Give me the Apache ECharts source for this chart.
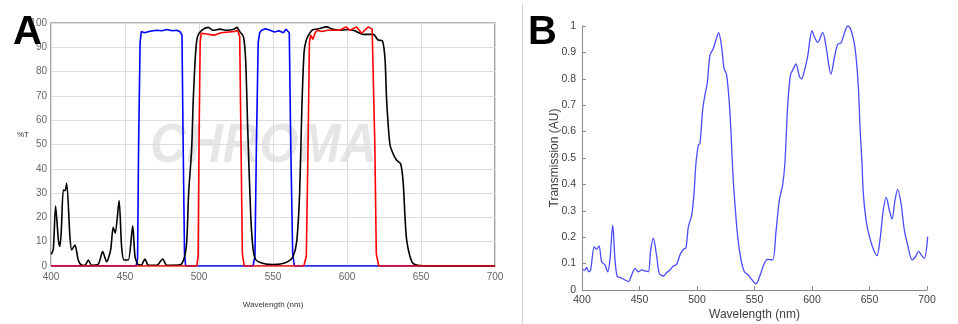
<!DOCTYPE html>
<html>
<head>
<meta charset="utf-8">
<script src="https://cdn.jsdelivr.net/npm/echarts@6/dist/echarts.min.js"></script>
<style>
html,body{margin:0;padding:0;background:#fff;}
#chart{width:958px;height:324px;}
</style>
</head>
<body>
<div id="chart"></div>
<script>
// ---------- Panel A data (wavelength nm, %T) ----------
var blueX = [400, 457.5, 458.5, 459.2, 460.2, 461, 463, 467, 471.4, 475, 478.2, 482, 485, 487.2, 488.5, 489.3, 490.2, 491, 536.5, 537.8, 538.8, 540, 541, 542.3, 545, 548, 551, 554, 557, 558.8, 561, 562, 563.3, 564.5, 700];
var blueY = [0, 0, 3, 50, 92, 96.5, 96, 96.6, 97, 96.8, 97.3, 96.8, 97, 96.4, 95, 50, 5, 0, 0, 4, 50, 92, 96, 97, 97.6, 97, 96.3, 96.8, 96, 97.4, 96, 50, 5, 0, 0];

var redX = [400, 498.5, 499.4, 500, 500.8, 501.5, 505, 510, 515, 520, 524, 526, 527.5, 528.4, 529.3, 530.5, 570.8, 572.5, 573.7, 574.6, 575.5, 577, 578.5, 580, 583, 587, 591, 595, 599.3, 602, 606.5, 609.9, 614.4, 617, 618, 618.8, 619.8, 621.5, 700];
var redY = [0, 0, 4, 50, 92, 95.8, 95.5, 95, 96, 96.3, 96.5, 97, 94.5, 50, 5, 0, 0, 4, 50, 92, 95, 93.3, 96, 97, 96.5, 97, 97, 97, 98.4, 97, 98.4, 95.8, 98.4, 97.5, 97, 50, 5, 0, 0];

var blackX = [400, 400.5, 401.6, 403.1, 405, 406, 407, 408.3, 409.5, 410.6, 412.8, 414, 416.2, 418.4, 420.7, 423, 425.2, 427.5, 432, 434.9, 437.6, 440.3, 442, 443.4, 446, 447.7, 449.3, 452.2, 455.2, 456.8, 459, 461, 463.5, 465.8, 471.4, 475.5, 478.2, 487.2, 490, 491.7, 493, 495, 496.1, 497.7, 499, 501.8, 506.3, 509.5, 514.2, 518.7, 523.2, 525.5, 527.7, 530, 531.5, 533, 535, 536.6, 538, 540, 545, 550, 555, 560, 563.5, 566, 568, 569.5, 571, 572.5, 575, 577.2, 580, 586.3, 590, 595.3, 600, 604.3, 611, 617.8, 621, 624, 625.7, 626.8, 629, 631.3, 633.5, 636.3, 638, 639.2, 640.3, 642.6, 644.8, 649.3, 660, 700];
var blackY = [4.9, 5.2, 7, 24.7, 10.7, 8, 15, 31.3, 31, 34, 12, 6.6, 8.6, 2.5, 0.4, 0.3, 2.5, 0.3, 0.8, 5.9, 1.8, 6.6, 15.9, 13.5, 26.9, 8, 2.5, 2.5, 16.5, 3.8, 0.5, 0.4, 2.9, 0.3, 0.3, 2.9, 0.3, 0.5, 3.3, 10, 30, 47.7, 68, 87.6, 94.4, 97, 98.2, 97, 97.5, 97, 97.3, 98.2, 96.3, 94.4, 85, 55, 20, 6.6, 3, 1.8, 0.8, 0.6, 0.8, 1.8, 3.8, 10, 30, 65, 88, 93, 96, 97.3, 97.5, 98.4, 97.5, 97, 97.3, 97, 95.3, 95.3, 93, 92.6, 85, 68, 50, 46, 43.6, 42, 34, 20, 10.7, 3.8, 1, 0.2, 0, 0];

// ---------- Panel B data (wavelength nm, transmission AU) ----------
var specX = [400.3, 402.6, 404, 406, 407.5, 410.7, 412.7, 414.8, 417.1, 420, 422.3, 424.3, 426.7, 428.7, 430.7, 433, 437.4, 440.3, 443.2, 446.1, 449, 451.9, 454.8, 457.7, 459.7, 462, 465, 467.2, 470.7, 473.6, 476.5, 479.4, 482.3, 485.2, 488.1, 490.4, 492.5, 495.4, 497.4, 499.1, 501.2, 502.6, 504.9, 506.9, 508.9, 511.3, 514.2, 516.5, 518.8, 521.4, 523.5, 525.8, 528.7, 531, 532.5, 535.4, 538.3, 541.2, 544.6, 547.5, 551.3, 554.2, 558.6, 561.4, 565.8, 568.7, 571.6, 574.5, 576.5, 578.8, 581.2, 583.2, 586.1, 589, 591, 593.3, 596.2, 600, 602, 604.9, 609.3, 612.2, 616.5, 619.4, 622.3, 625.2, 628.1, 631, 633.3, 636.2, 638.3, 640.3, 642, 643.5, 644.6, 647, 649.9, 653.6, 656.5, 659.1, 662, 664.6, 667.2, 669.6, 672.2, 674.5, 677.4, 680.3, 683.2, 687, 689.9, 692.8, 695.4, 697.7, 700.6];
var specY = [0.076, 0.076, 0.086, 0.069, 0.076, 0.164, 0.154, 0.167, 0.107, 0.095, 0.069, 0.114, 0.246, 0.114, 0.05, 0.048, 0.038, 0.032, 0.057, 0.082, 0.069, 0.076, 0.072, 0.069, 0.15, 0.196, 0.126, 0.063, 0.053, 0.066, 0.076, 0.091, 0.097, 0.133, 0.154, 0.16, 0.24, 0.284, 0.366, 0.48, 0.549, 0.555, 0.682, 0.739, 0.783, 0.89, 0.915, 0.947, 0.975, 0.922, 0.84, 0.814, 0.669, 0.46, 0.353, 0.202, 0.114, 0.069, 0.057, 0.04, 0.023, 0.048, 0.101, 0.116, 0.114, 0.221, 0.341, 0.398, 0.485, 0.694, 0.814, 0.833, 0.856, 0.81, 0.8, 0.829, 0.884, 0.982, 0.96, 0.938, 0.976, 0.922, 0.818, 0.878, 0.931, 0.936, 0.972, 1.0, 0.991, 0.947, 0.884, 0.77, 0.594, 0.48, 0.366, 0.265, 0.202, 0.152, 0.13, 0.189, 0.303, 0.351, 0.303, 0.269, 0.341, 0.381, 0.328, 0.227, 0.17, 0.114, 0.126, 0.146, 0.13, 0.12, 0.202];

function pairs(xs, ys) {
  var out = [];
  for (var i = 0; i < Math.min(xs.length, ys.length); i++) out.push([xs[i], ys[i]]);
  return out;
}

var chart = echarts.init(document.getElementById('chart'), null, {renderer: 'canvas'});
var FONT = '"Liberation Sans", Arial, Helvetica, sans-serif';

var option = {
  backgroundColor: '#fff',
  animation: false,
  textStyle: {fontFamily: FONT},
  graphic: [
    {type: 'text', left: 13, top: 13, z: 10, style: {text: 'A', font: 'bold 40px ' + FONT, fill: '#000'}},
    {type: 'text', left: 528, top: 13, z: 10, style: {text: 'B', font: 'bold 40px ' + FONT, fill: '#000'}},
    {type: 'line', z: 0, shape: {x1: 522.5, y1: 4, x2: 522.5, y2: 324}, style: {stroke: '#cfcfcf', lineWidth: 1}},
    {type: 'text', x: 150, y: 119, z: 0, silent: true, scaleX: 0.9, originX: 0, originY: 0,
     style: {text: 'CHROMA', font: 'italic bold 56px ' + FONT, fill: '#e6e6e6'}},
    {type: 'text', x: 17, y: 131, z: 10, style: {text: '%T', font: '8px ' + FONT, fill: '#333'}}
  ],
  grid: [
    {left: 51, top: 23, width: 444, height: 243, show: true, borderColor: '#6a6a6a', borderWidth: 1.2,
     backgroundColor: 'transparent', outerBoundsMode: 'none', containLabel: false},
    {left: 582, top: 26, width: 345, height: 264, outerBoundsMode: 'none', containLabel: false}
  ],
  xAxis: [
    {
      gridIndex: 0, type: 'value', min: 400, max: 700, interval: 50,
      axisLine: {show: false}, axisTick: {show: false},
      splitLine: {show: true, lineStyle: {color: '#dcdcdc', width: 1}},
      axisLabel: {color: '#666', fontSize: 10, margin: 6, fontFamily: FONT},
      name: 'Wavelength (nm)', nameLocation: 'middle', nameGap: 35, nameMoveOverlap: false,
      nameTextStyle: {color: '#333', fontSize: 8, fontFamily: FONT}
    },
    {
      gridIndex: 1, type: 'value', min: 400, max: 700, interval: 50,
      axisLine: {show: true, onZero: false, lineStyle: {color: '#8a8a8a', width: 1}},
      axisTick: {show: true, inside: true, length: 4, lineStyle: {color: '#8a8a8a'}},
      splitLine: {show: false},
      axisLabel: {color: '#404040', fontSize: 10.5, margin: 5, fontFamily: FONT},
      name: 'Wavelength (nm)', nameLocation: 'middle', nameGap: 19, nameMoveOverlap: false,
      nameTextStyle: {color: '#404040', fontSize: 12, fontFamily: FONT}
    }
  ],
  yAxis: [
    {
      gridIndex: 0, type: 'value', min: 0, max: 100, interval: 10,
      axisLine: {show: false}, axisTick: {show: false},
      splitLine: {show: true, lineStyle: {color: '#dcdcdc', width: 1}},
      axisLabel: {color: '#666', fontSize: 10, margin: 4, fontFamily: FONT}
    },
    {
      gridIndex: 1, type: 'value', min: 0, max: 1, interval: 0.1,
      axisLine: {show: true, onZero: false, lineStyle: {color: '#8a8a8a', width: 1}},
      axisTick: {show: true, inside: true, length: 4, lineStyle: {color: '#8a8a8a'}},
      splitLine: {show: false},
      axisLabel: {color: '#404040', fontSize: 10.5, margin: 6, fontFamily: FONT},
      name: 'Transmission (AU)', nameLocation: 'middle', nameGap: 21, nameMoveOverlap: false,
      nameTextStyle: {color: '#404040', fontSize: 12, fontFamily: FONT}
    }
  ],
  series: [
    {type: 'line', xAxisIndex: 0, yAxisIndex: 0, data: pairs(blueX, blueY), showSymbol: false, z: 3,
     lineStyle: {color: '#0000ff', width: 1.6}, smooth: false},
    {type: 'line', xAxisIndex: 0, yAxisIndex: 0, data: pairs(blackX, blackY), showSymbol: false, z: 4,
     lineStyle: {color: '#000000', width: 1.6}, smooth: 0.25},
    {type: 'line', xAxisIndex: 0, yAxisIndex: 0, data: pairs(redX, redY), showSymbol: false, z: 5,
     lineStyle: {color: '#ff0000', width: 1.6}, smooth: false},
    {type: 'line', xAxisIndex: 1, yAxisIndex: 1, data: pairs(specX, specY), showSymbol: false, z: 3,
     lineStyle: {color: '#4a4aff', width: 1.3}, smooth: 0.3}
  ]
};
chart.setOption(option);
</script>
</body>
</html>
